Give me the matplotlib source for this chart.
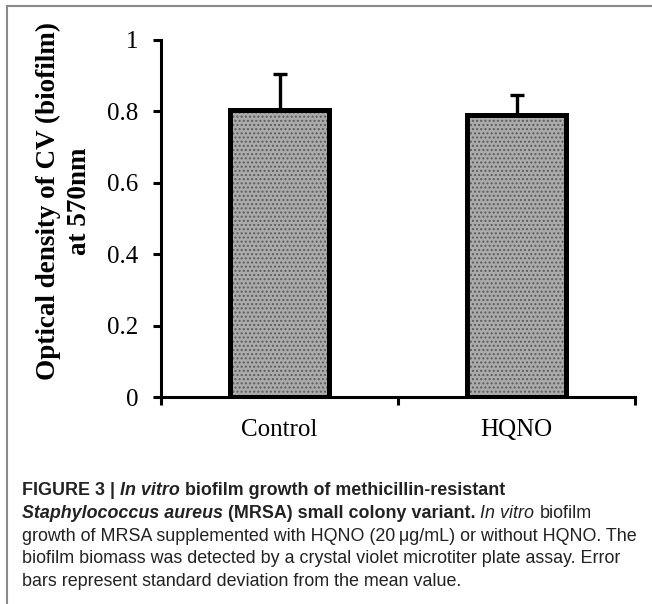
import matplotlib.pyplot as plt
import numpy as np
from matplotlib.lines import Line2D

groups = ['Control', 'HQNO']
od_mean = [0.805, 0.79]
od_sd = [0.10, 0.055]
yticks = [0, 0.2, 0.4, 0.6, 0.8, 1]
ytick_labels = ['0', '0.2', '0.4', '0.6', '0.8', '1']

caption = [
    [('FIGURE 3 | ', 'bold', 'normal'), ('In vitro', 'bold', 'italic'),
     (' biofilm growth of methicillin-resistant', 'bold', 'normal')],
    [('Staphylococcus aureus', 'bold', 'italic'),
     (' (MRSA) small colony variant.', 'bold', 'normal'),
     (' In vitro', 'normal', 'italic'), (' biofilm', 'normal', 'normal')],
    [('growth of MRSA supplemented with HQNO (20\u2009\u03bcg/mL) or without HQNO. The', 'normal', 'normal')],
    [('biofilm biomass was detected by a crystal violet microtiter plate assay. Error', 'normal', 'normal')],
    [('bars represent standard deviation from the mean value.', 'normal', 'normal')],
]

W, H = 652, 604
fig = plt.figure(figsize=(W / 100, H / 100), dpi=100)
ax = fig.add_axes([161 / W, 1 - 397 / H, 474 / W, 357 / H])

x = np.arange(len(groups))
# textured fill (dot hatch) then thick black outline on top
ax.bar(x, od_mean, width=0.42, color='#ababab', hatch='....', edgecolor='#5c5c5c',
       linewidth=0, zorder=2)
ax.bar(x, od_mean, width=0.42, color='none', edgecolor='black', linewidth=3.6, zorder=3)
ax.errorbar(x, od_mean, yerr=[[0, 0], od_sd], fmt='none', ecolor='black',
            elinewidth=2.4, capsize=5, capthick=2.4, zorder=1)

ax.set_xlim(-0.5, 1.5)
ax.set_ylim(0, 1)
ax.set_yticks(yticks)
ax.set_yticklabels(ytick_labels)
ax.set_xticks(x)
ax.set_xticklabels(groups)
ax.set_xticks([-0.5, 0.5, 1.5], minor=True)

serif = ['Liberation Serif', 'DejaVu Serif']
for lab in ax.get_xticklabels() + ax.get_yticklabels():
    lab.set_family(serif)
    lab.set_fontsize(18)
ax.tick_params(axis='y', direction='out', length=5.5, width=2.2, pad=11)
ax.tick_params(axis='x', which='major', length=0, pad=16)
ax.tick_params(axis='x', which='minor', direction='out', length=5.5, width=2.2)
for s in ['top', 'right']:
    ax.spines[s].set_visible(False)
for s in ['left', 'bottom']:
    ax.spines[s].set_linewidth(2.2)

ax.set_ylabel('Optical density of CV (biofilm)\nat 570nm', family=serif,
              fontsize=19.5, fontweight='bold', linespacing=1.3)
ax.yaxis.set_label_coords(-0.146, 0.548)

# frame lines (top and left)
fig.add_artist(Line2D([7 / W, 1], [1 - 6 / H, 1 - 6 / H], color='#8a8a8a', lw=1.5,
                      transform=fig.transFigure))
fig.add_artist(Line2D([7 / W, 7 / W], [0, 1 - 6 / H], color='#8a8a8a', lw=1.5,
                      transform=fig.transFigure))

# caption with mixed styles
renderer = fig.canvas.get_renderer()
cap_size = 12.9
cap_font = 'Liberation Sans'


def text_width(s, weight, style):
    t = fig.text(0, 0, s, fontsize=cap_size, fontweight=weight, fontstyle=style,
                 family=cap_font)
    w = t.get_window_extent(renderer=renderer).width
    t.remove()
    return w


baselines = [495, 518, 541, 563, 586]
for line, yb in zip(caption, baselines):
    xp = 22
    for s, weight, style in line:
        lead = len(s) - len(s.lstrip(' '))
        if lead:
            xp += text_width('x x', weight, style) - text_width('xx', weight, style)
        s = s.lstrip(' ')
        t = fig.text(xp / W, 1 - yb / H, s, fontsize=cap_size, fontweight=weight,
                     fontstyle=style, family=cap_font, color='#222222', va='baseline')
        xp = t.get_window_extent(renderer=renderer).x1

fig.savefig('out.png', dpi=100)
